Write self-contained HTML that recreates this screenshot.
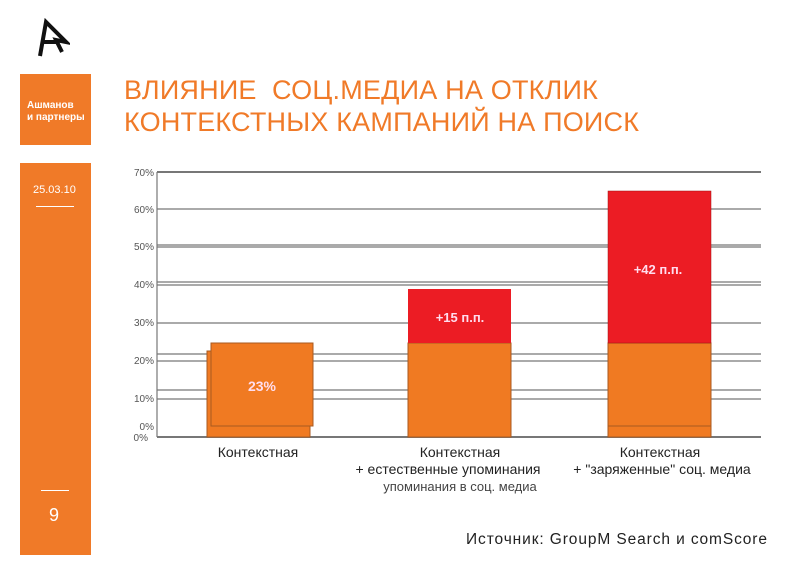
<!DOCTYPE html>
<html><head><meta charset="utf-8"><style>
body{margin:0;width:800px;height:579px;background:#fff;position:relative;overflow:hidden;font-family:"Liberation Sans","DejaVu Sans",sans-serif}
.a{position:absolute}
</style></head><body>
<svg class="a" style="left:36px;top:18px" width="34" height="46" viewBox="0 0 34 46"><path d="M4 38 L10 4 L30 24 L20 22 L26 34" fill="none" stroke="#111" stroke-width="4" stroke-linejoin="miter"/><path d="M8 24 L22 24" stroke="#111" stroke-width="4"/></svg>
<div class="a" style="left:20px;top:74px;width:71px;height:71px;background:#f07a28"></div>
<div class="a" style="left:27px;top:100px;color:#fff;font-size:10px;font-weight:bold;line-height:12px">Ашманов<br>и партнеры</div>
<div class="a" style="left:20px;top:163px;width:71px;height:392px;background:#f07a28"></div>
<div class="a" style="left:33px;top:184px;color:#fff;font-size:11px">25.03.10</div>
<div class="a" style="left:36px;top:206px;width:38px;height:1px;background:#fff"></div>
<div class="a" style="left:41px;top:490px;width:28px;height:1px;background:#fff"></div>
<div class="a" style="left:49px;top:505px;color:#fff;font-size:18px">9</div>
<div class="a" style="left:124px;top:74px;color:#f07a28;font-size:27px;line-height:32px;letter-spacing:0.2px">ВЛИЯНИЕ&nbsp; СОЦ.МЕДИА НА ОТКЛИК<br>КОНТЕКСТНЫХ КАМПАНИЙ НА ПОИСК</div>
<svg class="a" style="left:0;top:0" width="800" height="579" font-family="Liberation Sans, DejaVu Sans, sans-serif">
<g stroke="#777" stroke-width="1.2">
<line x1="157" y1="172" x2="761" y2="172" stroke-width="2"/>
<line x1="157" y1="209" x2="761" y2="209"/>
<line x1="157" y1="245" x2="761" y2="245"/><line x1="157" y1="247" x2="761" y2="247"/>
<line x1="157" y1="282" x2="761" y2="282"/><line x1="157" y1="285" x2="761" y2="285"/>
<line x1="157" y1="323" x2="761" y2="323"/>
<line x1="157" y1="354" x2="761" y2="354"/><line x1="157" y1="361" x2="761" y2="361"/>
<line x1="157" y1="390" x2="761" y2="390"/><line x1="157" y1="399" x2="761" y2="399"/>
<line x1="157" y1="437" x2="761" y2="437" stroke-width="2"/>
<line x1="157" y1="172" x2="157" y2="437"/>
</g>
<g font-size="10" fill="#555" text-anchor="end">
<text x="154" y="176">70%</text><text x="154" y="213">60%</text><text x="154" y="250">50%</text><text x="154" y="288">40%</text><text x="154" y="326">30%</text><text x="154" y="364">20%</text><text x="154" y="402">10%</text><text x="154" y="430">0%</text><text x="148" y="441">0%</text>
</g>
<rect x="207" y="351" width="103" height="86" fill="#f07a22" stroke="#a85a20"/>
<rect x="211" y="343" width="102" height="83" fill="#f07a22" stroke="#a85a20"/>
<text x="262" y="391" font-size="14" font-weight="bold" fill="#fde" text-anchor="middle">23%</text>
<rect x="408" y="343" width="103" height="94" fill="#f07a22" stroke="#a85a20"/>
<rect x="408" y="289" width="103" height="54" fill="#ec1c24"/>
<text x="460" y="322" font-size="13" font-weight="bold" fill="#fde" text-anchor="middle">+15 п.п.</text>
<rect x="608" y="343" width="103" height="94" fill="#f07a22" stroke="#a85a20"/>
<line x1="608" y1="426" x2="711" y2="426" stroke="#a85a20"/>
<rect x="608" y="191" width="103" height="152" fill="#ec1c24" stroke="#a01010" stroke-width="0.5"/>
<text x="658" y="274" font-size="13" font-weight="bold" fill="#fde" text-anchor="middle">+42 п.п.</text>
<g font-size="14" fill="#222" text-anchor="middle">
<text x="258" y="457">Контекстная</text>
<text x="460" y="457">Контекстная</text>
<text x="448" y="474">+ естественные упоминания</text>
<text x="460" y="491" font-size="13" fill="#444">упоминания в соц. медиа</text>
<text x="660" y="457">Контекстная</text>
<text x="662" y="474">+ "заряженные" соц. медиа</text>
</g>
<text x="466" y="544" font-size="15.5" fill="#222" letter-spacing="0.9">Источник: GroupM Search и comScore</text>
</svg>
</body></html>
